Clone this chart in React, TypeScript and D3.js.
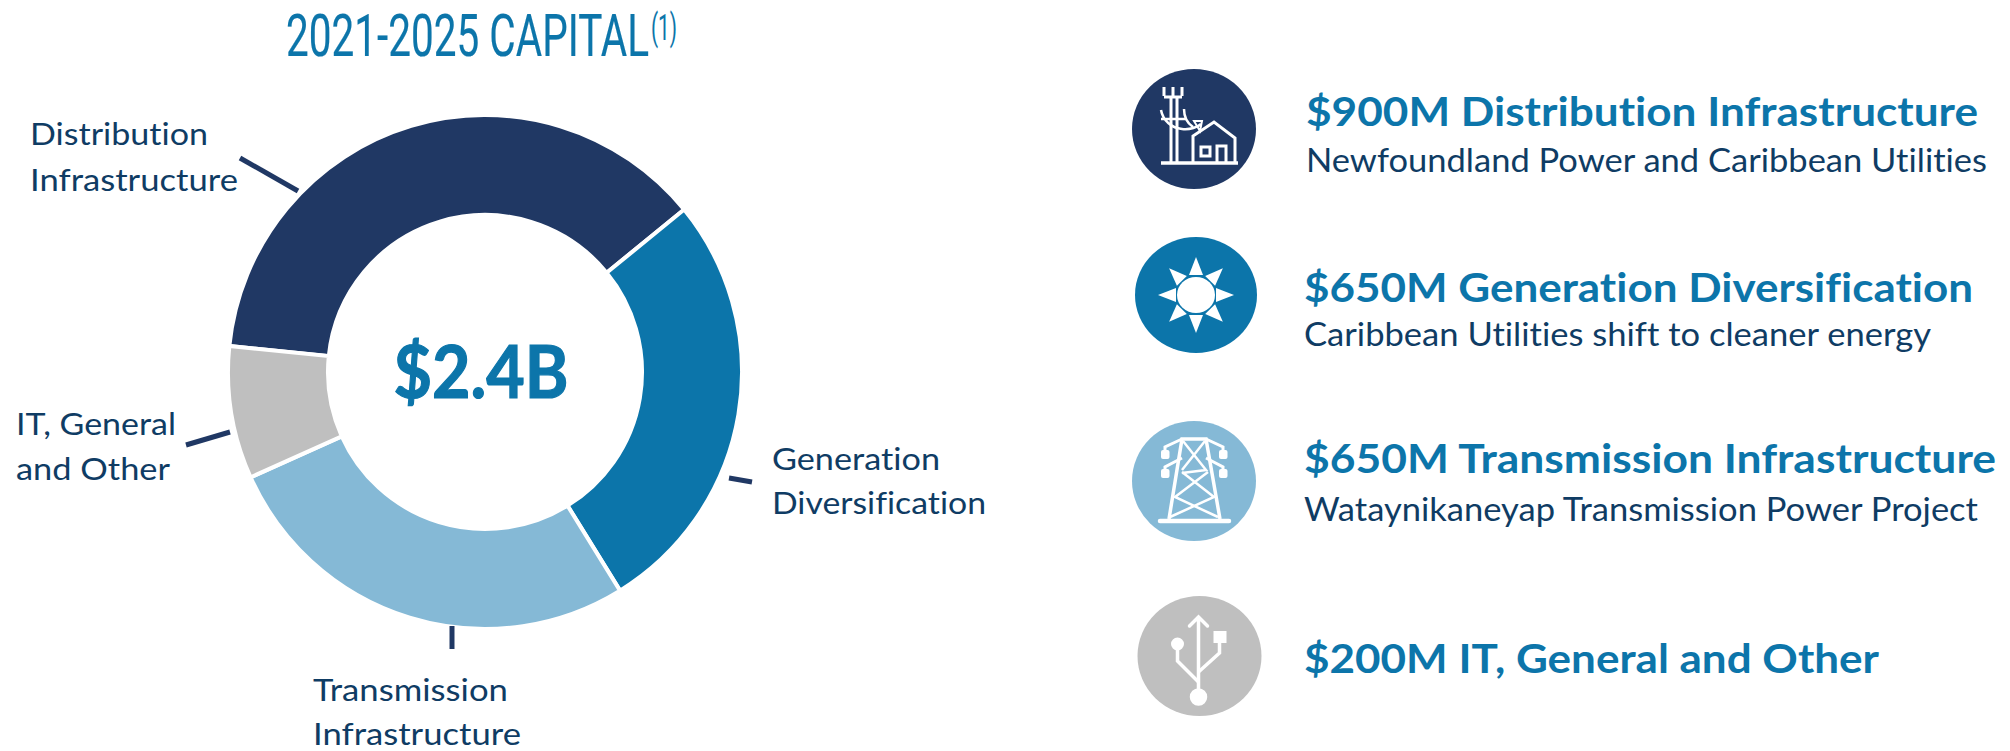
import React from "react";
import * as d3 from "d3";

const categories = ["Distribution Infrastructure", "Generation Diversification", "Transmission Infrastructure", "IT, General and Other"];
const values = [900, 650, 650, 200];
const colors = ["#203864", "#0c75aa", "#85b9d6", "#bfbfbf"];
const title = "2021-2025 CAPITAL";
const centerLabel = "$2.4B";
const sideHeads = ["$900M Distribution Infrastructure", "$650M Generation Diversification", "$650M Transmission Infrastructure", "$200M IT, General and Other"];
const sideSubs = ["Newfoundland Power and Caribbean Utilities", "Caribbean Utilities shift to cleaner energy", "Wataynikaneyap Transmission Power Project", ""];

const cx = 485, cy = 372, R = 257, r = 157;
const FONT = "Lato, 'Open Sans', sans-serif";
const NAVY = "#203864";
const TXT = "#0f3c64";
const BLUE = "#0c75aa";
const noLig = { fontVariantLigatures: "none" } as const;

const W = "#fff";
function House() {
  return (
    <g fill="none" stroke={W} strokeWidth={3}>
      <path d="M-23 34 V-32 M-17 34 V-32 M-30 -32 H-12 M-30 -33 V-42 M-21 -32 V-42 M-12 -33 V-42" />
      <path d="M-33 -19 C-31 -8 -22 -1 -12 0 C-4 1 4 -2 7 -5 M-33 -10 H-8 M-10 -20 C-10 -12 -7 -6 -1 -2" strokeWidth={2.5} />
      <path d="M0 -8 L8 -8 L6 2 Z" strokeWidth={2} />
      <path d="M-33 34 H44" strokeWidth={3.5} />
      <path d="M-1 34 V7 L20 -7 L41 9 V34" />
      <rect x={7} y={18} width={9} height={9} />
      <path d="M23 34 V17 H32 V34" />
    </g>
  );
}
function Sun() {
  const spikes = d3.range(8).map((i) => i * 45);
  return (
    <g fill={W}>
      <ellipse cx={0} cy={0} rx={19} ry={18} />
      {spikes.map((a) => (
        <path key={a} transform={`rotate(${a})`} d="M-7 -20 L0 -38 L7 -20 Z" />
      ))}
    </g>
  );
}
function Tower() {
  return (
    <g fill="none" stroke={W} strokeWidth={3}>
      <path d="M-25 38 L-12 -42 H12 L26 38" strokeWidth={3.5} />
      <path d="M-34 40 H35" strokeWidth={4.5} strokeLinecap="round" />
      <path d="M-11 -40 L12 -11 L-12 -8 M11 -40 L-12 -11 M-12 -9 L20 16 L-24 36 M14 -9 L-19 16 L24 36" strokeWidth={2.5} />
      <path d="M-12 -42 L-29 -34 V-31 M12 -42 L29 -34 V-31 M-12 -23 L-29 -14 V-12 M12 -23 L29 -14 V-12" />
      <g fill={W} stroke="none">
        <rect x={-33} y={-31} width={8.5} height={9} rx={2} />
        <rect x={25} y={-31} width={8.5} height={9} rx={2} />
        <rect x={-33} y={-12} width={8.5} height={9} rx={2} />
        <rect x={25} y={-12} width={8.5} height={9} rx={2} />
      </g>
    </g>
  );
}
function Usb() {
  return (
    <g fill={W} stroke={W} strokeWidth={3.5}>
      <path d="M-1 38 V-38 M-10 -30 L-1 -39 L8 -30" fill="none" strokeLinecap="round" />
      <path d="M-1 26 L-22 5 V-12 M-1 16 L20 -3 V-15" fill="none" />
      <circle cx={-22} cy={-12} r={5} strokeWidth={3} />
      <rect x={15} y={-24} width={11} height={10} strokeWidth={2} />
      <circle cx={-1} cy={41} r={7} />
    </g>
  );
}
const icons = [
  { x: 1194, y: 129, rx: 62, ry: 60, Icon: House, fill: colors[0] },
  { x: 1196, y: 295, rx: 61, ry: 58, Icon: Sun, fill: colors[1] },
  { x: 1194, y: 481, rx: 62, ry: 60, Icon: Tower, fill: colors[2] },
  { x: 1199.5, y: 656, rx: 62, ry: 60, Icon: Usb, fill: colors[3] },
];
const heads = [
  { x: 1306, y: 126, len: 672 },
  { x: 1304, y: 302, len: 669 },
  { x: 1304, y: 473, len: 692 },
  { x: 1304, y: 673, len: 575 },
];
const subs = [
  { x: 1306, y: 172, len: 681 },
  { x: 1304, y: 346, len: 627 },
  { x: 1304, y: 521, len: 674 },
];
const ticks = [
  { x1: 240, y1: 158, x2: 298, y2: 191 },
  { x1: 729, y1: 478, x2: 752, y2: 482 },
  { x1: 452, y1: 626, x2: 452, y2: 649 },
  { x1: 186, y1: 445, x2: 230, y2: 432 },
];
const labels = [
  { x: 30, ys: [145, 191], lines: ["Distribution", "Infrastructure"] },
  { x: 772, ys: [470, 514], lines: ["Generation", "Diversification"] },
  { x: 313, ys: [701, 745], lines: ["Transmission", "Infrastructure"] },
  { x: 16, ys: [435, 480], lines: ["IT, General", "and Other"] },
];
const labelLens = [[178, 208], [168, 214], [195, 208], [160, 154]];

export default function App() {
  const pie = d3.pie<number>().sort(null).startAngle((-84.2 * Math.PI) / 180).endAngle((275.8 * Math.PI) / 180);
  const arc = d3.arc<d3.PieArcDatum<number>>().innerRadius(r).outerRadius(R);
  const arcs = pie(values);
  return (
    <svg width={2010} height={751} viewBox="0 0 2010 751" style={{ position: "absolute", left: 0, top: 0, background: "#fff" }}>
      <text x={286} y={56} fontFamily="Roboto, sans-serif" fontSize={60} fill={BLUE} stroke={BLUE} strokeWidth={0.2} textLength={363} lengthAdjust="spacingAndGlyphs">{title}</text>
      <text x={651} y={40} fontFamily="Roboto, sans-serif" fontSize={36} fill={BLUE} textLength={26} lengthAdjust="spacingAndGlyphs">(1)</text>
      <g transform={`translate(${cx},${cy})`}>
        {arcs.map((a, i) => (
          <path key={categories[i]} d={arc(a) ?? ""} fill={colors[i]} stroke="#fff" strokeWidth={4} />
        ))}
        <text x={-4} y={0} dy={26} textAnchor="middle" fontFamily={FONT} fontWeight={700} fontSize={72} fill={BLUE} stroke={BLUE} strokeWidth={1.2} textLength={175} lengthAdjust="spacingAndGlyphs" style={noLig}>{centerLabel}</text>
      </g>
      {ticks.map((t, i) => <line key={i} {...t} stroke={NAVY} strokeWidth={5} />)}
      {labels.map((l, i) => l.lines.map((s, j) => (
        <text key={s} x={l.x} y={l.ys[j]} fontFamily={FONT} fontSize={31} fill={TXT} textLength={labelLens[i][j]} lengthAdjust="spacingAndGlyphs" style={noLig}>{s}</text>
      )))}
      {icons.map(({ x, y, rx, ry, Icon, fill }) => (
        <g key={fill} transform={`translate(${x},${y})`}>
          <ellipse rx={rx} ry={ry} fill={fill} />
          <Icon />
        </g>
      ))}
      {sideHeads.map((s, i) => (
        <text key={s} x={heads[i].x} y={heads[i].y} fontFamily={FONT} fontWeight={700} fontSize={41} fill={BLUE} textLength={heads[i].len} lengthAdjust="spacingAndGlyphs" style={noLig}>{s}</text>
      ))}
      {sideSubs.filter(Boolean).map((s, i) => (
        <text key={s} x={subs[i].x} y={subs[i].y} fontFamily={FONT} fontSize={32} fill={TXT} textLength={subs[i].len} lengthAdjust="spacingAndGlyphs" style={noLig}>{s}</text>
      ))}
    </svg>
  );
}
